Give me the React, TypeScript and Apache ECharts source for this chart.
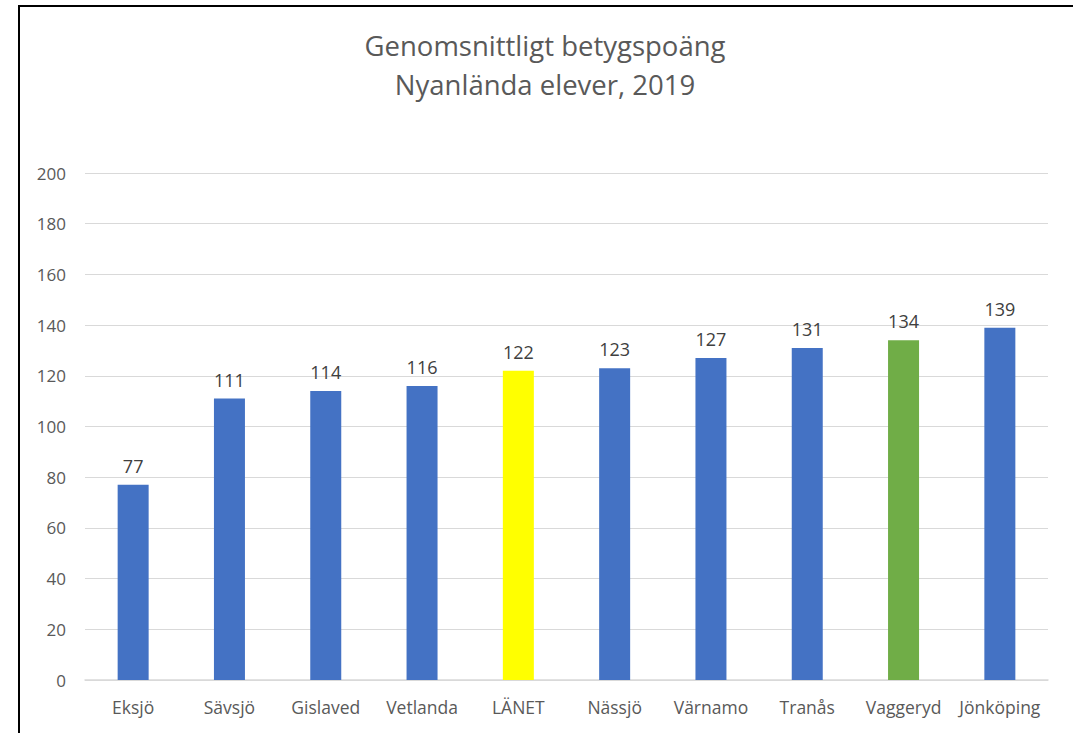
import React, { useEffect, useRef } from "react";
import * as echarts from "echarts";

const categories = ["Eksjö", "Sävsjö", "Gislaved", "Vetlanda", "LÄNET", "Nässjö", "Värnamo", "Tranås", "Vaggeryd", "Jönköping"];
const values = [77, 111, 114, 116, 122, 123, 127, 131, 134, 139];
const barColors = ["#4472C4", "#4472C4", "#4472C4", "#4472C4", "#FFFF00", "#4472C4", "#4472C4", "#4472C4", "#70AD47", "#4472C4"];
const titleLines = ["Genomsnittligt betygspoäng", "Nyanlända elever, 2019"];

const FONT = "'Open Sans', 'Noto Sans', sans-serif";

export default function App() {
  const ref = useRef<HTMLDivElement>(null);
  useEffect(() => {
    document.body.style.margin = "0";
    const chart = echarts.init(ref.current!, null, { renderer: "svg" });
    chart.setOption({
      animation: false,
      backgroundColor: "#ffffff",
      title: {
        text: titleLines.join("\n"),
        left: 540,
        textAlign: "center",
        top: 21,
        textStyle: {
          fontFamily: FONT,
          fontSize: 27.5,
          fontWeight: "normal",
          color: "#595959",
          lineHeight: 39,
        },
      },
      graphic: [
        { type: "line", shape: { x1: 18, y1: 6, x2: 1073, y2: 6 }, style: { stroke: "#000", lineWidth: 2 } },
        { type: "line", shape: { x1: 19, y1: 5, x2: 19, y2: 733 }, style: { stroke: "#000", lineWidth: 2 } },
      ],
      grid: { left: 85, right: 25, top: 173, bottom: 53, containLabel: false },
      xAxis: {
        type: "category",
        data: categories,
        axisLine: { lineStyle: { color: "#D9D9D9", width: 1.5 } },
        axisTick: { show: false },
        axisLabel: { color: "#595959", fontSize: 17.5, fontFamily: FONT, margin: 18, interval: 0 },
      },
      yAxis: {
        type: "value",
        min: 0,
        max: 200,
        interval: 20,
        axisLine: { show: false },
        axisTick: { show: false },
        splitLine: { lineStyle: { color: "#D9D9D9", width: 1 } },
        axisLabel: { color: "#595959", fontSize: 17, fontFamily: FONT, margin: 19 },
      },
      series: [
        {
          type: "bar",
          barWidth: 31,
          data: values.map((v, i) => ({ value: v, itemStyle: { color: barColors[i] } })),
          label: {
            show: true,
            position: "top",
            distance: 10,
            color: "#404040",
            fontSize: 18,
            fontFamily: FONT,
          },
        },
      ],
    });
    return () => chart.dispose();
  }, []);
  return <div ref={ref} style={{ width: 1073, height: 733 }} />;
}
